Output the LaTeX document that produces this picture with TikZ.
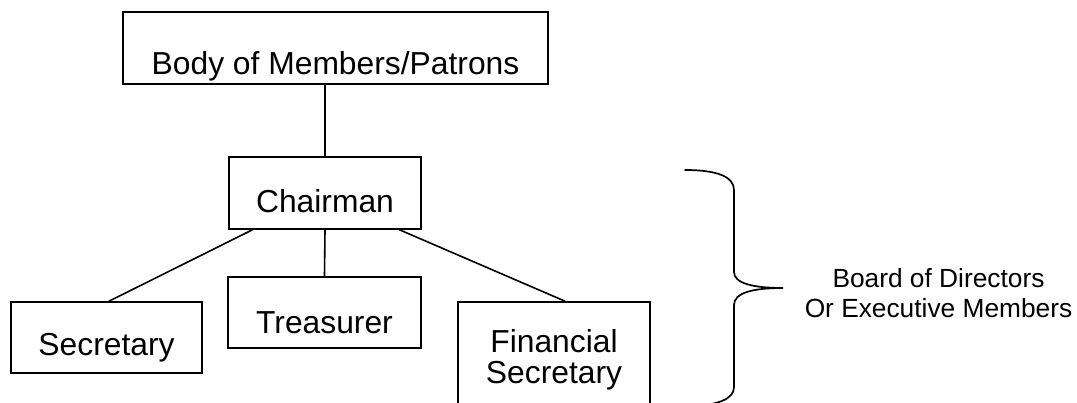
\documentclass[tikz,border=0pt]{standalone}
\usepackage{fontspec}
\setmainfont{Liberation Sans}
\usetikzlibrary{calc}
\begin{document}
\begin{tikzpicture}[x=1pt,y=-1pt,
  orgbox/.style={draw, line width=1.6pt, inner xsep=0pt, inner ysep=0pt, anchor=center,
    font=\fontsize{31.8}{31.5}\selectfont},
  conn/.style={line width=1.6pt},
  bracestyle/.style={line width=1.7pt, line cap=round}]
\useasboundingbox (0,0) rectangle (1077,402);
\node[orgbox, minimum width=425pt, text height=62pt, text depth=10pt] (body) at (335.5,48)
  {\begin{tabular}[t]{@{}c@{}}Body of Members/Patrons\end{tabular}};
\node[orgbox, minimum width=192pt, text height=55pt, text depth=17pt] (chair) at (325,193)
  {\begin{tabular}[t]{@{}c@{}}Chairman\end{tabular}};
\node[orgbox, minimum width=193pt, text height=56pt, text depth=15pt] (tre) at (324.5,312.5)
  {\begin{tabular}[t]{@{}c@{}}Treasurer\end{tabular}};
\node[orgbox, minimum width=191pt, text height=53pt, text depth=18pt] (sec) at (106.5,337.5)
  {\begin{tabular}[t]{@{}c@{}}Secretary\end{tabular}};
\node[orgbox, minimum width=192pt, text height=50pt, text depth=54pt] (fin) at (554,354)
  {\begin{tabular}[t]{@{}c@{}}Financial\\Secretary\end{tabular}};
\node[anchor=base, inner sep=0pt, font=\fontsize{26.3}{30}\selectfont] (board) at (938.5,287)
  {\begin{tabular}[t]{@{}c@{}}Board of Directors\\Or Executive Members\end{tabular}};
% connectors
\draw[conn] (chair.north) -- (chair.north |- body.south);
\draw[conn] (chair.south) -- (tre.north);
\draw[conn] ($(chair.south west)!0.125!(chair.south east)$) -- ($(sec.north west)!0.513!(sec.north east)$);
\draw[conn] ($(chair.south west)!0.885!(chair.south east)$) -- ($(fin.north west)!0.557!(fin.north east)$);
% brace
\draw[bracestyle] (685,170) .. controls (718,170) and (734,177) .. (734,190)
  -- (734,272) .. controls (734,283) and (752,288) .. (783,288)
  .. controls (752,288) and (734,293) .. (734,305)
  -- (734,387) .. controls (734,399) and (718,406) .. (685,406);
\end{tikzpicture}
\end{document}
